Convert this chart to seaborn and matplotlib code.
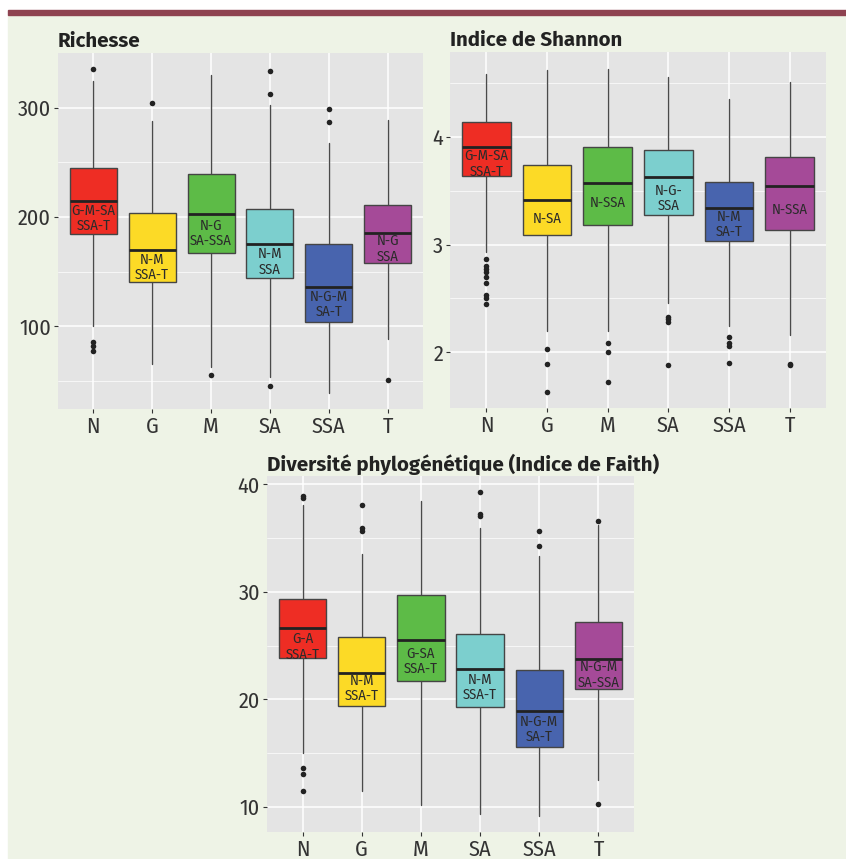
import numpy as np
import pandas as pd
import matplotlib
matplotlib.use("Agg")
import matplotlib.pyplot as plt
from matplotlib import font_manager
import seaborn as sns

# ----------------------
# Data (box stats per region)
# ----------------------
groups = ["N", "G", "M", "SA", "SSA", "T"]
colors = ["#EE2D24", "#FCDA26", "#5DBB47", "#7CCFCE", "#4864AE", "#A54A98"]

# Richesse
rich_lo = [100, 66, 63, 54, 39, 89]
rich_q1 = [184.5, 140.5, 167, 144, 104.5, 158]
rich_med = [215, 170, 202.5, 175.5, 136, 185]
rich_q3 = [244.5, 204, 239, 207, 175, 211]
rich_hi = [324, 288, 330, 302, 268, 289]
rich_out = [[335, 85.5, 82.5, 78], [304.5], [56], [333.5, 312, 46], [299, 287], [51.5]]
rich_lab = ["G-M-SA\nSSA-T", "N-M\nSSA-T", "N-G\nSA-SSA", "N-M\nSSA", "N-G-M\nSA-T", "N-G\nSSA"]
rich_lab_y = [198.5, 154, 185, 159, 120, 171]

# Indice de Shannon
shan_lo = [2.93, 2.20, 2.20, 2.46, 2.24, 2.16]
shan_q1 = [3.635, 3.09, 3.18, 3.275, 3.03, 3.135]
shan_med = [3.905, 3.41, 3.57, 3.625, 3.34, 3.54]
shan_q3 = [4.135, 3.74, 3.905, 3.88, 3.585, 3.81]
shan_hi = [4.59, 4.62, 4.63, 4.56, 4.35, 4.51]
shan_out = [[2.865, 2.80, 2.77, 2.74, 2.70, 2.64, 2.53, 2.50, 2.45],
            [2.03, 1.89, 1.63], [2.08, 2.0, 1.725], [2.33, 2.305, 2.28, 1.88],
            [2.14, 2.085, 2.06, 1.895], [1.89, 1.88]]
shan_lab = ["G-M-SA\nSSA-T", "N-SA", "N-SSA", "N-G-\nSSA", "N-M\nSA-T", "N-SSA"]
shan_lab_y = [3.75, 3.24, 3.39, 3.43, 3.185, 3.32]

# Diversite phylogenetique (Faith)
faith_lo = [15.0, 11.5, 10.15, 9.3, 9.15, 12.5]
faith_q1 = [23.85, 19.4, 21.75, 19.25, 15.55, 21.0]
faith_med = [26.6, 22.45, 25.5, 22.85, 18.95, 23.75]
faith_q3 = [29.35, 25.8, 29.75, 26.05, 22.75, 27.2]
faith_hi = [38.1, 33.5, 38.5, 35.9, 33.3, 36.2]
faith_out = [[38.9, 38.7, 13.6, 13.1, 11.5], [38.1, 35.9, 35.7], [],
             [39.3, 37.25, 37.05], [35.65, 34.25], [36.6, 10.3]]
faith_lab = ["G-A\nSSA-T", "N-M\nSSA-T", "G-SA\nSSA-T", "N-M\nSSA-T", "N-G-M\nSA-T", "N-G-M\nSA-SSA"]
faith_lab_y = [24.9, 21.0, 23.55, 21.1, 17.2, 22.3]

# ----------------------
# Style
# ----------------------
sns.set_theme(style="darkgrid")
installed = {f.name for f in font_manager.fontManager.ttflist}


def pick(cands):
    for c in cands:
        if c in installed:
            return c
    return "DejaVu Sans"


narrow = pick(["Fira Sans Condensed", "Fira Sans Extra Condensed", "Barlow Semi Condensed",
               "Asap Condensed", "Barlow Condensed"])
title_font = pick(["Fira Sans", "Lato"])
plt.rcParams["font.family"] = [narrow, "DejaVu Sans"]

BG = "#EEF3E6"
PANEL = "#E4E4E4"


def draw_panel(ax, title, lo, q1, med, q3, hi, outliers, labels, label_y, ylim, yticks, minor):
    ax.set_facecolor(PANEL)
    stats = []
    for i in range(len(groups)):
        stats.append({"whislo": lo[i], "q1": q1[i], "med": med[i], "q3": q3[i],
                      "whishi": hi[i], "fliers": []})
    # outliers drawn with seaborn
    out_df = pd.DataFrame([(g, v) for g, vals in zip(groups, outliers) for v in vals],
                          columns=["region", "value"])
    sns.stripplot(data=out_df, x="region", y="value", order=groups, jitter=False,
                  color="#222222", size=4, ax=ax, zorder=4)
    bp = ax.bxp(stats, positions=range(len(groups)), widths=0.8, patch_artist=True,
                showfliers=False, showcaps=False,
                boxprops=dict(edgecolor="#454545", linewidth=1.0),
                whiskerprops=dict(color="#4a4a4a", linewidth=1.0),
                medianprops=dict(color="#222222", linewidth=2.0))
    for patch, c in zip(bp["boxes"], colors):
        patch.set_facecolor(c)
        patch.set_zorder(3)
    for w in bp["whiskers"]:
        w.set_zorder(2)
    for m in bp["medians"]:
        m.set_zorder(3.5)
    for i, (lab, ly) in enumerate(zip(labels, label_y)):
        ax.text(i, ly, lab, ha="center", va="center", fontsize=10.5, color="#2b2b2b",
                linespacing=1.1, zorder=5)
    ax.set_xlim(-0.6, len(groups) - 0.4)
    ax.set_ylim(*ylim)
    ax.set_xticks(range(len(groups)))
    ax.set_xticklabels(groups)
    ax.set_yticks(yticks)
    ax.set_yticks(minor, minor=True)
    ax.grid(which="major", color="white", linewidth=1.1)
    ax.grid(which="minor", axis="y", color="white", linewidth=0.5)
    ax.tick_params(axis="both", which="major", labelsize=16, colors="#333333",
                   length=3, width=0.8, pad=2, left=True, bottom=True)
    ax.tick_params(axis="y", which="minor", length=0)
    for s in ax.spines.values():
        s.set_visible(False)
    ax.set_xlabel("")
    ax.set_ylabel("")
    ax.set_title(title, loc="left", fontsize=14.8, fontweight="bold",
                 family=[title_font, "DejaVu Sans"], color="#222222", pad=4)


fig = plt.figure(figsize=(8.46, 8.59), dpi=100)
fig.patch.set_facecolor("white")
# light green card and maroon top rule
fig.add_artist(plt.Rectangle((8 / 846, 0), 1 - 8 / 846, 1 - 15 / 859,
                             transform=fig.transFigure, color=BG, zorder=0))
fig.add_artist(plt.Rectangle((8 / 846, 1 - 15 / 859), 1 - 8 / 846, 5 / 859,
                             transform=fig.transFigure, color="#8E4250", zorder=0))

ax1 = fig.add_axes([58 / 846, 1 - 409 / 859, 365 / 846, 356 / 859])
ax2 = fig.add_axes([450 / 846, 1 - 408 / 859, 376 / 846, 356 / 859])
ax3 = fig.add_axes([267 / 846, 1 - 832 / 859, 367 / 846, 356 / 859])

draw_panel(ax1, "Richesse", rich_lo, rich_q1, rich_med, rich_q3, rich_hi, rich_out,
           rich_lab, rich_lab_y, (24.6, 349.8), [100, 200, 300], [50, 150, 250])
draw_panel(ax2, "Indice de Shannon", shan_lo, shan_q1, shan_med, shan_q3, shan_hi, shan_out,
           shan_lab, shan_lab_y, (1.48, 4.79), [2, 3, 4], [2.5, 3.5, 4.5])
draw_panel(ax3, "Diversité phylogénétique (Indice de Faith)", faith_lo, faith_q1, faith_med,
           faith_q3, faith_hi, faith_out, faith_lab, faith_lab_y, (7.67, 40.78),
           [10, 20, 30, 40], [15, 25, 35])

fig.savefig("out.png", dpi=100, facecolor=fig.get_facecolor())
